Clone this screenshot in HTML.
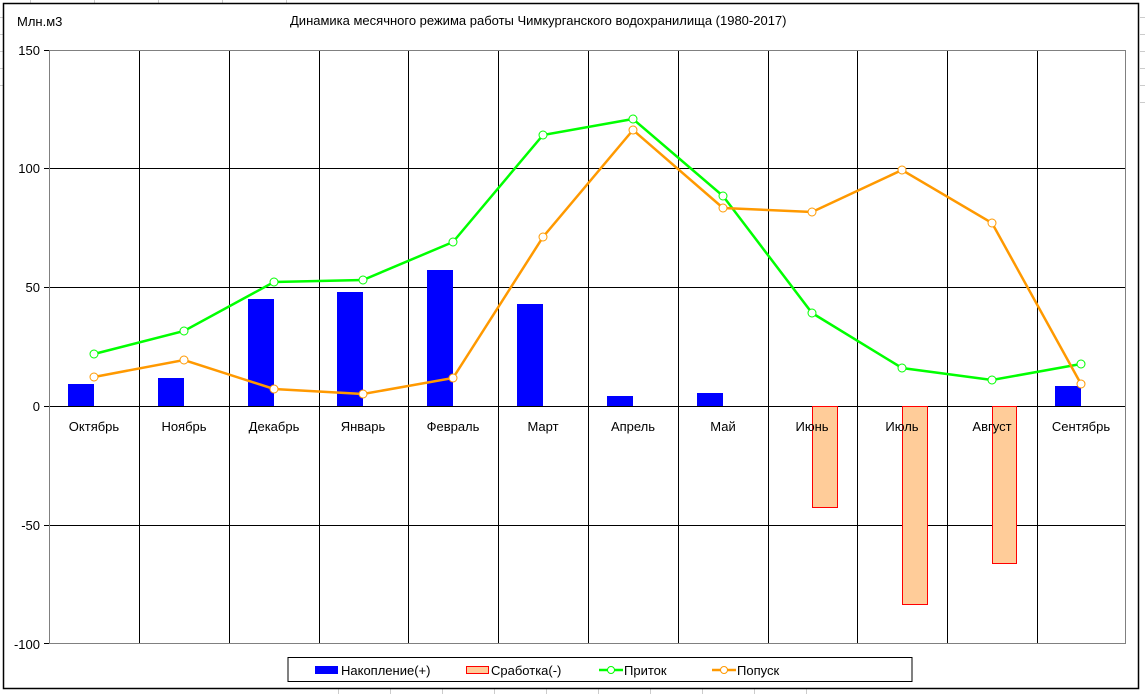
<!DOCTYPE html>
<html><head><meta charset="utf-8"><style>body{margin:0;background:#fff}svg{display:block}text{font-family:"Liberation Sans",sans-serif;font-size:13px}</style></head><body>
<svg width="1145" height="694" xmlns="http://www.w3.org/2000/svg">
<g stroke="#ccc" stroke-width="1">
<line x1="1140" y1="17.5" x2="1145" y2="17.5"/><line x1="1140" y1="34.5" x2="1145" y2="34.5"/><line x1="1140" y1="51.5" x2="1145" y2="51.5"/><line x1="1140" y1="68.5" x2="1145" y2="68.5"/><line x1="1140" y1="85.5" x2="1145" y2="85.5"/><line x1="1140" y1="102.5" x2="1145" y2="102.5"/>
<line x1="0" y1="17.5" x2="3" y2="17.5"/><line x1="0" y1="34.5" x2="3" y2="34.5"/><line x1="0" y1="51.5" x2="3" y2="51.5"/><line x1="0" y1="68.5" x2="3" y2="68.5"/><line x1="0" y1="85.5" x2="3" y2="85.5"/>
<line x1="30.5" y1="0" x2="30.5" y2="3"/><line x1="94.5" y1="0" x2="94.5" y2="3"/><line x1="158.5" y1="0" x2="158.5" y2="3"/><line x1="222.5" y1="0" x2="222.5" y2="3"/><line x1="286.5" y1="0" x2="286.5" y2="3"/>
<line x1="338.5" y1="689" x2="338.5" y2="694"/><line x1="390.5" y1="689" x2="390.5" y2="694"/><line x1="442.5" y1="689" x2="442.5" y2="694"/><line x1="494.5" y1="689" x2="494.5" y2="694"/><line x1="546.5" y1="689" x2="546.5" y2="694"/><line x1="598.5" y1="689" x2="598.5" y2="694"/><line x1="650.5" y1="689" x2="650.5" y2="694"/><line x1="702.5" y1="689" x2="702.5" y2="694"/><line x1="754.5" y1="689" x2="754.5" y2="694"/><line x1="806.5" y1="689" x2="806.5" y2="694"/>
</g>
<rect x="3.5" y="3.5" width="1135" height="685" fill="#fff" stroke="#000" stroke-width="1.5"/>
<text x="17" y="26">Млн.м3</text>
<text x="290" y="25">Динамика месячного режима работы Чимкурганского водохранилища (1980-2017)</text>
<g stroke="#000" stroke-width="1">
<line x1="49" y1="168.5" x2="1126" y2="168.5"/><line x1="49" y1="287.5" x2="1126" y2="287.5"/><line x1="49" y1="406.5" x2="1126" y2="406.5"/><line x1="49" y1="525.5" x2="1126" y2="525.5"/>
<line x1="139.5" y1="50" x2="139.5" y2="644"/><line x1="229.5" y1="50" x2="229.5" y2="644"/><line x1="319.5" y1="50" x2="319.5" y2="644"/><line x1="408.5" y1="50" x2="408.5" y2="644"/><line x1="498.5" y1="50" x2="498.5" y2="644"/><line x1="588.5" y1="50" x2="588.5" y2="644"/><line x1="678.5" y1="50" x2="678.5" y2="644"/><line x1="768.5" y1="50" x2="768.5" y2="644"/><line x1="857.5" y1="50" x2="857.5" y2="644"/><line x1="947.5" y1="50" x2="947.5" y2="644"/><line x1="1037.5" y1="50" x2="1037.5" y2="644"/>
<line x1="44" y1="50.5" x2="49" y2="50.5"/><line x1="44" y1="168.5" x2="49" y2="168.5"/><line x1="44" y1="287.5" x2="49" y2="287.5"/><line x1="44" y1="406.5" x2="49" y2="406.5"/><line x1="44" y1="525.5" x2="49" y2="525.5"/><line x1="44" y1="643.5" x2="49" y2="643.5"/>
</g>
<rect x="49.5" y="50.5" width="1076" height="593" fill="none" stroke="#808080"/>
<g text-anchor="end"><text x="40" y="55">150</text><text x="40" y="173">100</text><text x="40" y="292">50</text><text x="40" y="411">0</text><text x="40" y="530">-50</text><text x="40" y="649">-100</text></g>
<g fill="#0000ff">
<rect x="68" y="384" width="26" height="22"/><rect x="158" y="378" width="26" height="28"/><rect x="248" y="299" width="26" height="107"/><rect x="337" y="292" width="26" height="114"/><rect x="427" y="270" width="26" height="136"/><rect x="517" y="304" width="26" height="102"/><rect x="607" y="396" width="26" height="10"/><rect x="697" y="393" width="26" height="13"/><rect x="1055" y="386" width="26" height="20"/>
</g>
<g fill="#ffcc99" stroke="#ff0000">
<rect x="812.5" y="406.5" width="25" height="101"/><rect x="902.5" y="406.5" width="25" height="198"/><rect x="992.5" y="406.5" width="24" height="157"/>
</g>
<g text-anchor="middle">
<text x="94" y="431">Октябрь</text><text x="184" y="431">Ноябрь</text><text x="274" y="431">Декабрь</text><text x="363" y="431">Январь</text><text x="453" y="431">Февраль</text><text x="543" y="431">Март</text><text x="633" y="431">Апрель</text><text x="723" y="431">Май</text><text x="812" y="431">Июнь</text><text x="902" y="431">Июль</text><text x="992" y="431">Август</text><text x="1081" y="431">Сентябрь</text>
</g>
<polyline fill="none" stroke="#00ff00" stroke-width="2.5" points="94,354 184,331 274,282 363,280 453,242 543,135 633,119 723,196 812,313 902,368 992,380 1081,364"/>
<polyline fill="none" stroke="#ff9900" stroke-width="2.5" points="94,377 184,360 274,389 363,394 453,378 543,237 633,130 723,208 812,212 902,170 992,223 1081,384"/>
<g fill="#fff" stroke="#00ff00" stroke-width="1"><circle cx="94" cy="354" r="4"/><circle cx="184" cy="331" r="4"/><circle cx="274" cy="282" r="4"/><circle cx="363" cy="280" r="4"/><circle cx="453" cy="242" r="4"/><circle cx="543" cy="135" r="4"/><circle cx="633" cy="119" r="4"/><circle cx="723" cy="196" r="4"/><circle cx="812" cy="313" r="4"/><circle cx="902" cy="368" r="4"/><circle cx="992" cy="380" r="4"/><circle cx="1081" cy="364" r="4"/></g>
<g fill="#fff" stroke="#ff9900" stroke-width="1"><circle cx="94" cy="377" r="4"/><circle cx="184" cy="360" r="4"/><circle cx="274" cy="389" r="4"/><circle cx="363" cy="394" r="4"/><circle cx="453" cy="378" r="4"/><circle cx="543" cy="237" r="4"/><circle cx="633" cy="130" r="4"/><circle cx="723" cy="208" r="4"/><circle cx="812" cy="212" r="4"/><circle cx="902" cy="170" r="4"/><circle cx="992" cy="223" r="4"/><circle cx="1081" cy="384" r="4"/></g>
<rect x="288" y="657.5" width="624" height="24" fill="#fff" stroke="#000"/>
<rect x="315" y="666" width="23" height="8" fill="#0000ff"/><text x="341" y="675">Накопление(+)</text>
<rect x="466.5" y="666.5" width="22" height="7" fill="#ffcc99" stroke="#ff0000"/><text x="491" y="675">Сработка(-)</text>
<line x1="599" y1="670" x2="623" y2="670" stroke="#00ff00" stroke-width="2.5"/><circle cx="611" cy="670" r="3.5" fill="#fff" stroke="#00ff00"/><text x="624" y="675">Приток</text>
<line x1="712" y1="670" x2="736" y2="670" stroke="#ff9900" stroke-width="2.5"/><circle cx="724" cy="670" r="3.5" fill="#fff" stroke="#ff9900"/><text x="737" y="675">Попуск</text>
</svg>
</body></html>
